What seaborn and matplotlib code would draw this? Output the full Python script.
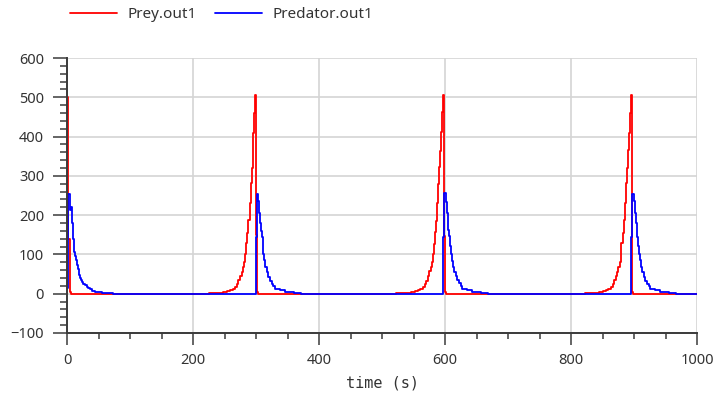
import matplotlib
matplotlib.use("Agg")
import matplotlib.pyplot as plt
from matplotlib.ticker import MultipleLocator
from matplotlib import font_manager
import seaborn as sns
import pandas as pd

# ---------------- data ----------------
prey_time = [0, 2, 4.8, 7,
             225, 248, 254, 259, 263, 267, 270, 272, 275, 277, 279, 281, 283, 284, 286, 288, 290, 291.5, 293, 294.5, 296, 297.5, 299, 300.5, 301.5, 303,
             523, 546, 552, 557, 561, 565, 568, 570, 573, 575, 577, 579, 581, 582, 584, 586, 588, 589.5, 591, 592.5, 594, 595.5, 597, 598.5, 599.5, 601,
             822, 844, 850, 855, 859, 863, 866, 868, 871, 873, 875, 877, 879, 880, 882, 884, 886, 887.5, 889, 890.5, 892, 893.5, 895, 896.5, 897.5, 899, 1000]
prey_values = [500, 140, 5, 0.3,
               3, 5, 7, 9, 13, 17, 25, 34, 45, 56, 68, 81, 100, 128, 155, 187, 230, 281, 320, 366, 410, 460, 506, 150, 4, 0.3,
               3, 5, 7, 10, 13, 18, 24, 33, 46, 57, 69, 82, 101, 127, 157, 186, 232, 279, 322, 364, 412, 462, 505, 148, 4, 0.3,
               3, 5, 7, 9, 13, 17, 25, 34, 45, 56, 68, 81, 100, 128, 155, 187, 230, 281, 320, 366, 410, 460, 506, 150, 4, 0.3, 0.3]

pred_time = [0, 1.5, 4.5, 6, 7.5, 9, 10.5, 11.5, 13, 14, 15.5, 17, 18.5, 19.5, 21, 22, 24, 26, 28.5, 31, 33.5, 36, 40, 44, 50, 55, 73,
             300, 301.5, 303.5, 305, 306.5, 308, 309, 310.5, 311.5, 313, 315, 317, 319.5, 322, 325, 327.5, 330, 334, 338, 346, 360, 372,
             597.5, 599, 601, 602.5, 604, 605.5, 606.5, 608, 609, 610.5, 612.5, 614.5, 617, 619.5, 622.5, 625, 627.5, 631.5, 635.5, 643.5, 657, 669,
             896, 897.5, 899.5, 901, 902.5, 904, 905, 906.5, 907.5, 909, 911, 913, 915.5, 918, 921, 923.5, 926, 930, 934, 942, 955, 967, 1000]
pred_values = [15, 255, 213, 221, 179, 140, 122, 107, 95, 85, 74, 64, 55, 47, 40, 34, 30, 26, 21, 17, 14, 11, 8, 5, 4, 3, 0,
               145, 255, 235, 205, 179, 160, 145, 122, 102, 85, 68, 55, 43, 33, 26, 19, 13, 11, 9, 5, 3, 0,
               145, 256, 233, 205, 180, 161, 146, 121, 101, 84, 69, 56, 44, 34, 27, 19, 13, 11, 9, 5, 3, 0,
               145, 255, 235, 205, 179, 160, 145, 122, 102, 85, 68, 55, 43, 33, 26, 19, 13, 11, 9, 5, 3, 0, 0]

series_names = ["Prey.out1", "Predator.out1"]
series_colors = ["#ff0000", "#0000ff"]
x_ticks = [0, 200, 400, 600, 800, 1000]
y_ticks = [-100, 0, 100, 200, 300, 400, 500, 600]
x_label = "time (s)"

# ---------------- style ----------------
sns.set_theme(style="whitegrid")


def pick(fams, default="DejaVu Sans"):
    for f in fams:
        try:
            font_manager.findfont(f, fallback_to_default=False)
            return f
        except Exception:
            pass
    return default


sans = pick(["Noto Sans", "Open Sans", "DejaVu Sans"])
mono = pick(["DejaVu Sans Mono", "Liberation Mono"])
plt.rcParams["font.family"] = [sans, "DejaVu Sans"]

text_color = "#333333"
spine_color = "#3a3a3a"

df = pd.concat([
    pd.DataFrame({"time": prey_time, "value": prey_values, "series": series_names[0]}),
    pd.DataFrame({"time": pred_time, "value": pred_values, "series": series_names[1]}),
], ignore_index=True)

fig = plt.figure(figsize=(7.15, 3.98), dpi=100)
ax = fig.add_axes([67 / 715, 1 - 333 / 398, 630 / 715, 275 / 398])

sns.lineplot(data=df, x="time", y="value", hue="series", hue_order=series_names,
             palette=series_colors, estimator=None, sort=False,
             drawstyle="steps-post", linewidth=1.3, ax=ax, legend=False)

ax.set_xlim(0, 1000)
ax.set_ylim(-100, 600)
ax.set_xticks(x_ticks)
ax.set_yticks(y_ticks)
ax.xaxis.set_minor_locator(MultipleLocator(50))
ax.yaxis.set_minor_locator(MultipleLocator(20))

ax.grid(True, which="major", color="#d4d4d4", linewidth=1.2)
ax.grid(False, which="minor")
ax.set_axisbelow(True)

for s in ["top", "right"]:
    ax.spines[s].set_visible(False)
for s in ["left", "bottom"]:
    ax.spines[s].set_visible(True)
    ax.spines[s].set_color(spine_color)
    ax.spines[s].set_linewidth(1.4)

ax.tick_params(axis="y", which="major", direction="out", length=10, width=1.1,
               color=spine_color, pad=6.5, labelsize=10.5, labelcolor=text_color, left=True)
ax.tick_params(axis="y", which="minor", direction="out", length=5, width=1.1,
               color=spine_color, left=True)
ax.tick_params(axis="x", which="major", direction="out", length=8.5, width=1.1,
               color=spine_color, pad=6, labelsize=10.5, labelcolor=text_color, bottom=True)
ax.tick_params(axis="x", which="minor", direction="out", length=4.3, width=1.1,
               color=spine_color, bottom=True)

ax.set_ylabel("")
ax.set_xlabel(x_label, family=[mono, "DejaVu Sans"], fontsize=11, color=text_color, labelpad=5)

handles = [plt.Line2D([], [], color=c, linewidth=1.3) for c in series_colors]
fig.legend(handles, series_names, loc="center left",
           bbox_to_anchor=(70 / 715, 1 - 15 / 398), ncol=2, frameon=False,
           borderpad=0, borderaxespad=0, handlelength=3.1, handletextpad=0.65,
           columnspacing=1.2, fontsize=11, labelcolor=text_color)

fig.savefig("out.png", dpi=100)
